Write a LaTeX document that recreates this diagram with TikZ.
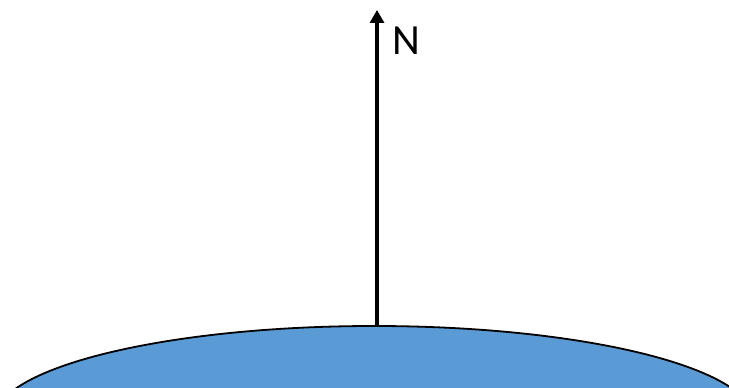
\documentclass[tikz,border=0pt]{standalone}
\usepackage{fontspec}
\setmainfont{Carlito}
\usetikzlibrary{arrows.meta}
\definecolor{earth}{HTML}{5B9BD5}
\begin{document}
\begin{tikzpicture}[x=1pt,y=1pt,
  ground/.style={fill=earth,draw=black,line width=1.8pt},
  northarrow/.style={line width=4pt,-{Triangle[width=14pt,length=13pt]}}]
\useasboundingbox (0,0) rectangle (729,388);
\begin{scope}
\clip (0,0) rectangle (729,388);
\draw[ground] (374,-32) ellipse [x radius=380, y radius=94];
\end{scope}
\coordinate (base) at (377,62);
\coordinate (tip) at (377,378);
\draw[northarrow] (base) -- (tip);
\node[font=\fontsize{43}{50}\selectfont,inner sep=0pt] (n) at (406,347) {N};
\end{tikzpicture}
\end{document}
